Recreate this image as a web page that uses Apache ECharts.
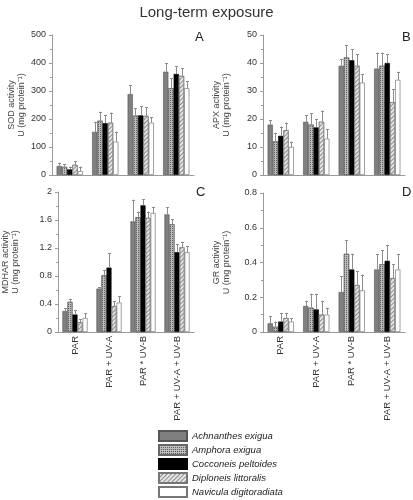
<!DOCTYPE html>
<html><head><meta charset="utf-8">
<script src="https://cdn.jsdelivr.net/npm/echarts@6/dist/echarts.min.js"></script>
<style>html,body{margin:0;padding:0;background:#fff}#c{width:413px;height:500px}</style>
</head><body><div id="c"></div>
<script>
const categories = ['PAR', 'PAR + UV-A', 'PAR * UV-B', 'PAR + UV-A + UV-B'];
const species = ['Achnanthes exigua', 'Amphora exigua', 'Cocconeis peltoides', 'Diploneis littoralis', 'Navicula digitoradiata'];

// SOD activity (rows = species, columns = categories)
const sodMean = [[32,154,289,369],[29,194,212,310],[20,185,213,361],[36,187,211,354],[14,119,187,310]];
const sodSd   = [[12,36,32,30],[9,32,26,35],[10,29,33,28],[14,36,31,27],[16,36,19,26]];
// APX activity
const apxMean = [[18,19,39,38],[12,18,42,39],[14,17,41,40],[16,19,39,26],[10,13,33,34]];
const apxSd   = [[1.6,2.4,2.5,5.7],[2.9,4,4.3,4.7],[3.3,2.9,4,3.1],[2.7,4,4.1,4.6],[1.9,3.3,2.9,2.9]];
// MDHAR activity
const mdharMean = [[0.30,0.62,1.58,1.68],[0.43,0.81,1.64,1.54],[0.25,0.92,1.81,1.14],[0.14,0.37,1.63,1.21],[0.20,0.42,1.70,1.14]];
const mdharSd   = [[0.04,0.02,0.31,0.10],[0.04,0.08,0.08,0.07],[0.06,0.21,0.09,0.12],[0.04,0.07,0.09,0.08],[0.07,0.09,0.09,0.09]];
// GR activity
const grMean = [[0.05,0.15,0.23,0.36],[0.03,0.14,0.45,0.39],[0.06,0.13,0.36,0.41],[0.08,0.10,0.27,0.31],[0.06,0.10,0.24,0.36]];
const grSd   = [[0.04,0.03,0.09,0.09],[0.03,0.08,0.08,0.08],[0.05,0.09,0.09,0.09],[0.03,0.08,0.08,0.08],[0.02,0.04,0.09,0.09]];

const yTicks = {A:[0,500,100], B:[0,50,10], C:[0,2,0.4], D:[0,0.8,0.2]};

const FONT = '"Liberation Sans", Arial, sans-serif';
const GAP = 0.26;
const styles = [
  {color:'#7f7f7f', borderColor:'#555', borderWidth:0.6},
  {color:'#bdbdbd', borderColor:'#666', borderWidth:0.6,
   decal:{symbol:'rect', symbolSize:1, dashArrayX:[1,1], dashArrayY:[1,1], color:'#5f5f5f'}},
  {color:'#000000', borderColor:'#000', borderWidth:0.6},
  {color:'#e6e6e6', borderColor:'#777', borderWidth:0.6,
   decal:{symbol:'rect', symbolSize:1, dashArrayX:[1,0], dashArrayY:[1,2], rotation:-Math.PI/4, color:'#8f8f8f'}},
  {color:'#ffffff', borderColor:'#777', borderWidth:0.7}
];

const panels = [
  {key:'A', mean:sodMean, sd:sodSd, name:'SOD activity\nU (mg protein⁻¹)', grid:{left:52, top:35, width:142, height:140}, gap:25, showLabels:false},
  {key:'B', mean:apxMean, sd:apxSd, name:'APX activity\nU (mg protein⁻¹)', grid:{left:263, top:35, width:142, height:140}, gap:31, showLabels:false},
  {key:'C', mean:mdharMean, sd:mdharSd, name:'MDHAR activity\nU (mg protein⁻¹)', grid:{left:52, top:192, width:142, height:140}, gap:37, showLabels:true},
  {key:'D', mean:grMean, sd:grSd, name:'GR activity\nU (mg protein⁻¹)', grid:{left:263, top:193, width:142, height:139}, gap:31, showLabels:true}
];

const grids = [], xAxes = [], yAxes = [], series = [];
panels.forEach((p, gi) => {
  grids.push(p.grid);
  xAxes.push({
    type:'category', gridIndex:gi, data:categories,
    axisLine:{lineStyle:{color:'#9a9a9a', width:1}},
    axisTick:{alignWithLabel:true, length:3, lineStyle:{color:'#9a9a9a'}},
    axisLabel:{show:p.showLabels, rotate:90, interval:0, margin:4, fontSize:9.5, color:'#333', fontFamily:FONT}
  });
  const t = yTicks[p.key];
  yAxes.push({
    type:'value', gridIndex:gi, min:t[0], max:t[1], interval:t[2],
    name:p.name, nameLocation:'middle', nameGap:p.gap,
    nameTextStyle:{fontSize:9, color:'#444', fontFamily:FONT, lineHeight:10},
    axisLine:{show:true, lineStyle:{color:'#9a9a9a'}},
    axisTick:{show:true, length:3, lineStyle:{color:'#9a9a9a'}},
    minorTick:{show:true, splitNumber:2, length:2, lineStyle:{color:'#9a9a9a'}},
    splitLine:{show:false},
    axisLabel:{fontSize:9, color:'#333', fontFamily:FONT, margin:6}
  });
  species.forEach((sp, k) => {
    series.push({
      type:'bar', name:sp, xAxisIndex:gi, yAxisIndex:gi,
      data:p.mean[k], barGap:'0%', barCategoryGap:(GAP*100)+'%',
      itemStyle:styles[k], emphasis:{disabled:true}, z:2
    });
  });
  const errData = [];
  species.forEach((sp, k) => {
    p.mean[k].forEach((m, ci) => errData.push([ci, m, m + p.sd[k][ci], k]));
  });
  series.push({
    type:'custom', xAxisIndex:gi, yAxisIndex:gi, data:errData, z:5, silent:true,
    encode:{x:0, y:[1,2]},
    renderItem:function(params, api){
      const ci = api.value(0), m = api.value(1), top = api.value(2), k = api.value(3);
      const c = api.coord([ci, m]);
      const tp = api.coord([ci, top]);
      const band = api.size([1,0])[0];
      const bw = band*(1-GAP)/5;
      const x = Math.round(c[0] + (k-2)*bw) + 0.5;
      const st = {stroke:'#8c8c8c', lineWidth:1};
      return {type:'group', children:[
        {type:'line', shape:{x1:x, y1:c[1], x2:x, y2:tp[1]}, style:st},
        {type:'line', shape:{x1:x-1.5, y1:Math.round(tp[1])+0.5, x2:x+1.5, y2:Math.round(tp[1])+0.5}, style:st}
      ]};
    }
  });
});

const letterStyle = {fontSize:13, fill:'#222', fontFamily:FONT, align:'center', verticalAlign:'middle'};
const option = {
  animation:false,
  title:{text:'Long-term exposure', left:'center', top:0, textStyle:{fontSize:15, fontWeight:'normal', color:'#333', fontFamily:FONT}},
  grid:grids, xAxis:xAxes, yAxis:yAxes, series:series,
  legend:{
    data:species, orient:'vertical', left:158, top:430, height:100, padding:0,
    itemWidth:28, itemHeight:10, itemGap:2, icon:'rect', selectedMode:false,
    textStyle:{fontSize:9.5, fontStyle:'italic', color:'#222', fontFamily:FONT, lineHeight:11.7}
  },
  graphic:[
    {type:'text', left:195, top:31, style:Object.assign({text:'A'}, letterStyle)},
    {type:'text', left:402, top:31, style:Object.assign({text:'B'}, letterStyle)},
    {type:'text', left:196, top:186, style:Object.assign({text:'C'}, letterStyle)},
    {type:'text', left:402, top:186, style:Object.assign({text:'D'}, letterStyle)}
  ]
};
const chart = echarts.init(document.getElementById('c'), null, {renderer:'canvas'});
chart.setOption(option);
</script>
</body></html>
